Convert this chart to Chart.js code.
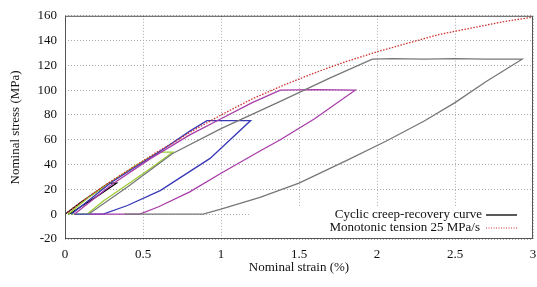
<!DOCTYPE html>
<html>
<head>
<meta charset="utf-8">
<script src="https://cdn.jsdelivr.net/npm/chart.js@4.4.0/dist/chart.umd.min.js"></script>
<style>
  html, body { margin: 0; padding: 0; background: #fff; overflow: hidden; }
  #wrap { width: 537px; height: 287px; position: relative; }
</style>
</head>
<body>
<div id="wrap"><canvas id="myChart"></canvas></div>
<script>
// cycle 1 (25 MPa)
var c1Strain = [0, 0.1, 0.2, 0.28, 0.33, 0.2, 0.1, 0.04, 0.02];
var c1Stress = [0, 9.5, 18, 25, 25, 14, 6, 1, 0];
// cycle 2 (50 MPa)
var c2Strain = [0.02, 0.15, 0.3, 0.45, 0.6, 0.69, 0.55, 0.4, 0.25, 0.14, 0.04];
var c2Stress = [0, 13.5, 26.5, 39, 50, 50, 37, 24, 11, 0, 0];
// cycle 3 (75 MPa)
var c3Strain = [0.04, 0.3, 0.6, 0.8, 0.91, 1.05, 1.19, 0.93, 0.61, 0.4, 0.245, 0.06];
var c3Stress = [0, 26, 50, 67, 75.5, 75.5, 75.5, 45, 19, 7, 0, 0];
// cycle 4 (100 MPa)
var c4Strain = [0.06, 0.3, 0.55, 0.8, 1.0, 1.2, 1.38, 1.6, 1.86, 1.6, 1.38, 1.25, 1.0, 0.8, 0.6, 0.48, 0.16];
var c4Stress = [0, 24, 45, 64, 77, 90, 100, 100.5, 100, 77, 60, 51, 33, 18, 6, 0, 0];
// cycle 5 (125 MPa)
var c5Strain = [0.15, 0.4, 0.69, 1.0, 1.38, 1.7, 1.97, 2.1, 2.3, 2.5, 2.7, 2.93, 2.7, 2.5, 2.3, 2.06, 1.8, 1.5, 1.25, 1.0, 0.885, 0.6, 0.45, 0.38];
var c5Stress = [0, 22, 49, 69, 91, 110, 125, 125.5, 125, 125.5, 125, 125, 107, 90, 75, 59, 43, 25, 13.5, 4, 0, 0, 0, 0];
// monotonic tension
var monoStrain = [0, 0.1, 0.2, 0.3, 0.4, 0.5, 0.6, 0.7, 0.8, 0.9, 1.0, 1.2, 1.4, 1.6, 1.8, 2.0, 2.2, 2.4, 2.6, 2.8, 3.0];
var monoStress = [0, 9.5, 18.5, 27, 35, 43, 51, 58, 66, 73, 80, 93, 104, 114, 123, 131, 138, 145, 150, 155, 159];

var xTicks = [0, 0.5, 1, 1.5, 2, 2.5, 3];
var yTicks = [-20, 0, 20, 40, 60, 80, 100, 120, 140, 160];

function pts(xs, ys) {
  return xs.map(function (x, i) { return {x: x, y: ys[i]}; });
}

var FONT = 'Liberation Serif';
var ctx = document.getElementById("myChart");

function line(label, xs, ys, color, dash) {
  return {
    label: label,
    data: pts(xs, ys),
    borderColor: color,
    backgroundColor: color,
    borderWidth: 1.3,
    borderDash: dash || [],
    pointRadius: 0,
    showLine: true,
    fill: false,
    tension: 0
  };
}

const framePlugin = {
  id: 'frame',
  beforeDatasetsDraw(chart) {
    const a = chart.chartArea, c = chart.ctx;
    c.save();
    c.fillStyle = '#fff';
    c.fillRect(250, 206, a.right - 250, a.bottom - 206);
    c.restore();
  },
  afterDraw(chart) {
    const a = chart.chartArea, c = chart.ctx;
    c.save();
    c.strokeStyle = '#555';
    c.lineWidth = 1;
    c.strokeRect(a.left + 0.5, a.top + 0.5, a.right - a.left - 1, a.bottom - a.top - 1);
    // key
    c.font = '13px "' + FONT + '"';
    c.fillStyle = '#111';
    c.textAlign = 'right';
    c.textBaseline = 'middle';
    c.fillText('Cyclic creep-recovery curve', 482, 215);
    c.fillText('Monotonic tension 25 MPa/s', 480, 228);
    c.strokeStyle = '#000';
    c.lineWidth = 1.3;
    c.beginPath(); c.moveTo(486, 215); c.lineTo(517, 215); c.stroke();
    c.strokeStyle = '#d03030';
    c.lineWidth = 1;
    c.setLineDash([1, 1.5]);
    c.beginPath(); c.moveTo(486, 228); c.lineTo(517, 228); c.stroke();
    c.restore();
  }
};

const chart = new Chart(ctx, {
  type: 'scatter',
  data: {
    datasets: [
      line('Monotonic tension 25 MPa/s', monoStrain, monoStress, '#d03030', [1.5, 1.5]),
      line('c5', c5Strain, c5Stress, '#777777'),
      line('c4', c4Strain, c4Stress, '#a83ca8'),
      line('c3', c3Strain, c3Stress, '#3838b8'),
      line('c2', c2Strain, c2Stress, '#9acd32'),
      line('Cyclic creep-recovery curve', c1Strain, c1Stress, '#000000')
    ]
  },
  options: {
    responsive: true,
    maintainAspectRatio: false,
    animation: false,
    layout: { padding: { top: 9, right: 0, left: 0, bottom: 0 } },
    plugins: { legend: { display: false }, tooltip: { enabled: false } },
    scales: {
      x: {
        type: 'linear',
        min: 0, max: 3,
        afterBuildTicks: function (s) { s.ticks = xTicks.map(function (v) { return {value: v}; }); },
        afterFit: function (s) { s.height = 48; s.paddingRight = 4; },
        grid: { color: '#aaaaaa', drawTicks: false },
        border: { display: false, dash: [1, 2] },
        ticks: { color: '#111', font: { family: FONT, size: 13 }, padding: 8, maxRotation: 0,
                 callback: function (v) { return String(v); } },
        title: { display: true, text: 'Nominal strain (%)', color: '#111', font: { family: FONT, size: 13 }, padding: { top: 4, bottom: 12 } }
      },
      y: {
        type: 'linear',
        min: -20, max: 160,
        afterBuildTicks: function (s) { s.ticks = yTicks.map(function (v) { return {value: v}; }); },
        afterFit: function (s) { s.width = 65; },
        grid: { color: '#aaaaaa', drawTicks: false },
        border: { display: false, dash: [1, 2] },
        ticks: { color: '#111', font: { family: FONT, size: 13 }, padding: 8 },
        title: { display: true, text: 'Nominal stress (MPa)', color: '#111', font: { family: FONT, size: 13 }, padding: { top: 8, bottom: 0 } }
      }
    }
  },
  plugins: [framePlugin]
});
</script>
</body>
</html>
